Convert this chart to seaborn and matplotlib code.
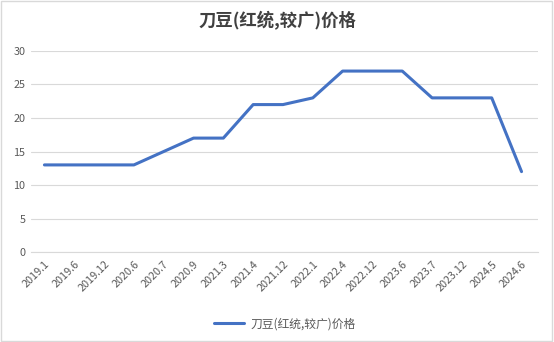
import matplotlib
matplotlib.use("Agg")
import matplotlib.pyplot as plt
import seaborn as sns
import pandas as pd
from matplotlib.patches import Rectangle

periods = ["2019.1", "2019.6", "2019.12", "2020.6", "2020.7", "2020.9", "2021.3",
           "2021.4", "2021.12", "2022.1", "2022.4", "2022.12", "2023.6", "2023.7",
           "2023.12", "2024.5", "2024.6"]
prices = [13, 13, 13, 13, 15, 17, 17, 22, 22, 23, 27, 27, 27, 23, 23, 23, 12]
series_name = "刀豆(红统,较广)价格"

df = pd.DataFrame({"period": periods, "price": prices})
df["pos"] = range(len(periods))

sns.set_theme(style="white")
plt.rcParams["font.family"] = ["Noto Sans CJK SC", "DejaVu Sans"]

fig = plt.figure(figsize=(5.54, 3.42), dpi=100)
ax = fig.add_axes([0.056, 0.263, 0.915, 0.588])

sns.lineplot(data=df, x="pos", y="price", ax=ax, color="#4472C4", linewidth=2.2,
             label=series_name)

ax.set_xlim(-0.45, len(periods) - 0.45)
ax.set_ylim(0, 30)
ax.set_yticks(range(0, 31, 5))
ax.set_xticks(df["pos"])
ax.set_xticklabels(periods, rotation=45, ha="right", rotation_mode="anchor")
ax.tick_params(axis="both", colors="#595959", labelsize=7.8, length=0, pad=4)
ax.tick_params(axis="x", pad=5)
ax.grid(axis="y", color="#D9D9D9", linewidth=0.8)
ax.set_axisbelow(True)
for side in ["top", "right", "left"]:
    ax.spines[side].set_visible(False)
ax.spines["bottom"].set_color("#D9D9D9")
ax.spines["bottom"].set_linewidth(0.8)
ax.set_xlabel("")
ax.set_ylabel("")

fig.text(0.5, 0.94, series_name, ha="center", va="center", fontsize=12.5,
         fontweight="bold", color="#404040")

leg = ax.legend(loc="upper center", bbox_to_anchor=(0.5, -0.3), frameon=False,
                fontsize=8.5, handlelength=2.6, handletextpad=0.5, borderaxespad=0)
for t in leg.get_texts():
    t.set_color("#595959")

fig.patches.append(Rectangle((0.002, 0.003), 0.995, 0.994, transform=fig.transFigure,
                             fill=False, edgecolor="#D9D9D9", linewidth=1))

fig.savefig("out.png", dpi=100)
